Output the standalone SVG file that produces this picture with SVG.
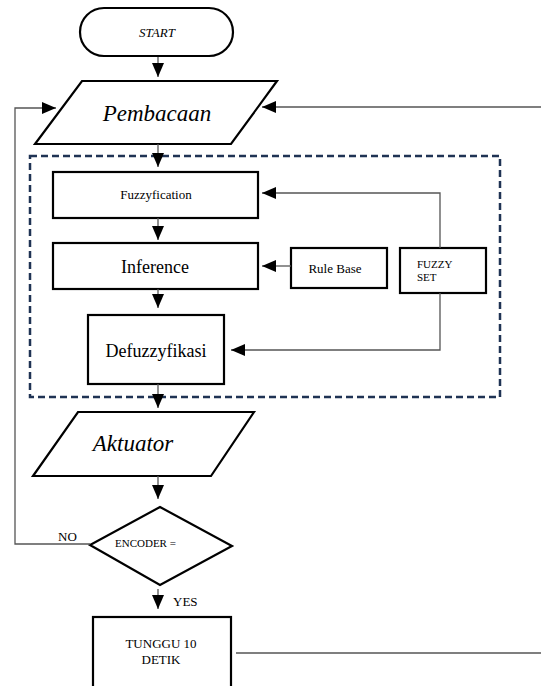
<svg xmlns="http://www.w3.org/2000/svg" width="541" height="686" viewBox="0 0 541 686">
<style>
.box{fill:#fff;stroke:#000;stroke-width:2.2}
.t{font-family:"Liberation Serif","Times New Roman",serif;fill:#000}
.it{font-style:italic}
.ln{fill:none;stroke:#555;stroke-width:1.3}
.dash{fill:none;stroke:#1f3354;stroke-width:2.5;stroke-dasharray:7,4}
</style>
<defs>
<marker id="ah" viewBox="0 0 14 12" refX="14" refY="6" markerWidth="14" markerHeight="12" markerUnits="userSpaceOnUse" orient="auto">
<path d="M0,0 L14,6 L0,12 Z" fill="#000"/>
</marker>
</defs>
<rect x="30" y="156" width="470" height="241" class="dash"/>
<g id="start"><rect x="80" y="8" width="153" height="48" rx="24" class="box"/><text x="157" y="37" class="t it" font-size="13" text-anchor="middle">START</text></g>
<g id="pembacaan"><polygon points="82,81 277,81 231,144 35,144" class="box"/><text x="157" y="121" class="t it" font-size="23" text-anchor="middle">Pembacaan</text></g>
<g id="fuzzyfication"><rect x="53" y="172" width="205" height="46" class="box"/><text x="156" y="199" class="t" font-size="13" text-anchor="middle">Fuzzyfication</text></g>
<g id="inference"><rect x="53" y="243" width="205" height="46" class="box"/><text x="155" y="273" class="t" font-size="18" text-anchor="middle">Inference</text></g>
<g id="defuzzyfikasi"><rect x="88" y="315" width="136" height="69" class="box"/><text x="156" y="357" class="t" font-size="18" text-anchor="middle">Defuzzyfikasi</text></g>
<g id="rulebase"><rect x="291" y="248" width="96" height="40" class="box"/><text x="335" y="273" class="t" font-size="13" text-anchor="middle">Rule Base</text></g>
<g id="fuzzyset"><rect x="400" y="248" width="86" height="45" class="box"/><text x="417" y="268" class="t" font-size="11">FUZZY</text><text x="417" y="281" class="t" font-size="11">SET</text></g>
<g id="aktuator"><polygon points="78,412 254,412 211,476 33,476" class="box"/><text x="133" y="451" class="t it" font-size="23" text-anchor="middle">Aktuator</text></g>
<g id="encoder"><polygon points="160,507 232,546 160,585 90,545" class="box"/><text x="115" y="547" class="t" font-size="11">ENCODER =</text></g>
<g id="tunggu"><rect x="93" y="617" width="138" height="72" class="box"/><text x="161" y="648" class="t" font-size="13" text-anchor="middle">TUNGGU 10</text><text x="161" y="664" class="t" font-size="13" text-anchor="middle">DETIK</text></g>
<g id="connectors">
<line x1="158" y1="57" x2="158" y2="77" class="ln" marker-end="url(#ah)"/>
<line x1="158" y1="144" x2="158" y2="167" class="ln" marker-end="url(#ah)"/>
<line x1="158" y1="218" x2="158" y2="240" class="ln" marker-end="url(#ah)"/>
<line x1="158" y1="289" x2="158" y2="308" class="ln" marker-end="url(#ah)"/>
<line x1="158" y1="384" x2="158" y2="408" class="ln" marker-end="url(#ah)"/>
<line x1="158" y1="476" x2="158" y2="499" class="ln" marker-end="url(#ah)"/>
<line x1="158" y1="589" x2="158" y2="609" class="ln" marker-end="url(#ah)"/>
<line x1="291" y1="266" x2="262" y2="266" class="ln" marker-end="url(#ah)"/>
<polyline points="440,248 440,193 262,193" class="ln" marker-end="url(#ah)"/>
<polyline points="440,293 440,350 231,350" class="ln" marker-end="url(#ah)"/>
<polyline points="90,544 15,544 15,108 56,108" class="ln" marker-end="url(#ah)"/>
<polyline points="541,107 262,107" class="ln" marker-end="url(#ah)"/>
<line x1="236" y1="653" x2="541" y2="653" class="ln"/>
<text x="58" y="541" class="t" font-size="13">NO</text>
<text x="173" y="606" class="t" font-size="13">YES</text>
</g>
</svg>
